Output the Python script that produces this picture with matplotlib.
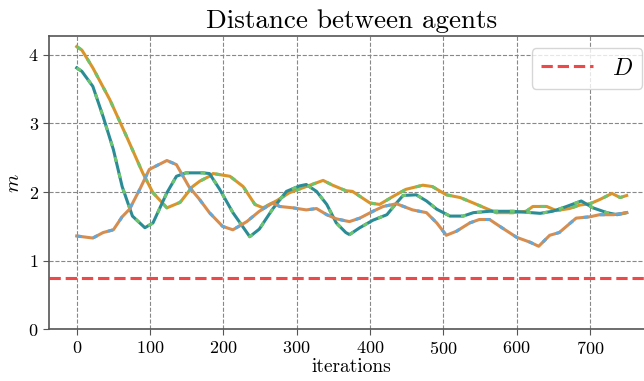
import matplotlib
matplotlib.use("Agg")
import matplotlib.pyplot as plt

plt.rcParams['font.family'] = 'serif'
plt.rcParams['font.serif'] = ['cmr10']
plt.rcParams['mathtext.fontset'] = 'cm'
plt.rcParams['axes.unicode_minus'] = False
plt.rcParams['axes.formatter.use_mathtext'] = True

# distance agent 0 - agent 1
x_a = [0, 7, 22, 45, 68, 90, 104, 123, 141, 158, 168, 181, 186, 209, 227, 243, 254, 272, 290,
       313, 336, 349, 367, 376, 400, 413, 432, 449, 472, 485, 504, 523, 541, 563, 572, 595,
       613, 622, 641, 654, 672, 686, 700, 713, 730, 741, 750]
d_a = [4.12, 4.07, 3.81, 3.35, 2.81, 2.28, 1.99, 1.77, 1.85, 2.08, 2.16, 2.23, 2.27, 2.23, 2.08,
       1.82, 1.77, 1.87, 1.99, 2.08, 2.17, 2.10, 2.02, 2.01, 1.84, 1.82, 1.94, 2.04, 2.10, 2.08,
       1.96, 1.92, 1.84, 1.74, 1.70, 1.70, 1.72, 1.79, 1.79, 1.73, 1.76, 1.81, 1.83, 1.89, 1.98,
       1.92, 1.95]

# distance agent 1 - agent 2
x_b = [0, 7, 22, 36, 50, 62, 76, 93, 104, 123, 136, 149, 172, 181, 195, 213, 236, 249, 267, 286,
       304, 313, 327, 341, 354, 367, 372, 386, 404, 423, 436, 445, 463, 477, 491, 509, 527, 541,
       563, 595, 632, 649, 668, 688, 704, 723, 737, 750]
d_b = [3.81, 3.76, 3.54, 3.10, 2.62, 2.08, 1.65, 1.48, 1.55, 1.99, 2.23, 2.28, 2.28, 2.27, 2.04,
       1.70, 1.35, 1.46, 1.75, 2.01, 2.09, 2.11, 2.01, 1.82, 1.55, 1.41, 1.38, 1.48, 1.59, 1.67,
       1.84, 1.95, 1.96, 1.87, 1.75, 1.65, 1.65, 1.70, 1.72, 1.72, 1.69, 1.72, 1.79, 1.87, 1.77,
       1.70, 1.67, 1.70]

# distance agent 0 - agent 2
x_c = [0, 22, 36, 50, 62, 72, 86, 99, 123, 136, 153, 167, 181, 199, 213, 232, 249, 267, 277,
       295, 313, 327, 341, 354, 367, 372, 386, 404, 418, 436, 458, 477, 491, 504, 518, 536, 549,
       563, 577, 600, 618, 630, 645, 658, 681, 700, 713, 732, 750]
d_c = [1.36, 1.33, 1.41, 1.45, 1.64, 1.75, 2.04, 2.33, 2.46, 2.40, 2.08, 1.90, 1.70, 1.50, 1.45,
       1.57, 1.72, 1.84, 1.79, 1.77, 1.74, 1.76, 1.67, 1.61, 1.58, 1.57, 1.62, 1.72, 1.79, 1.83,
       1.74, 1.70, 1.55, 1.37, 1.43, 1.55, 1.60, 1.60, 1.50, 1.34, 1.27, 1.21, 1.37, 1.41, 1.62,
       1.64, 1.67, 1.67, 1.70]

D = 0.75

c_orange = '#d9952b'
c_brown = '#d68d50'
c_teal = '#2b8c96'
c_green = '#6cc46c'
c_blue = '#62a8da'

fig = plt.figure(figsize=(6.44, 3.81), dpi=100)
ax = fig.add_axes([49.2 / 644, 51.7 / 381, 605 / 644, 293 / 381])

lw = 2.2
dash = (1.6, 3.8)
ax.plot(x_a, d_a, color=c_orange, lw=lw)
ax.plot(x_a, d_a, color=c_green, lw=lw, dashes=dash)
ax.plot(x_b, d_b, color=c_teal, lw=lw)
ax.plot(x_b, d_b, color=c_green, lw=lw, dashes=dash)
ax.plot(x_c, d_c, color=c_brown, lw=lw)
ax.plot(x_c, d_c, color=c_blue, lw=lw, dashes=dash)
ax.axhline(D, color='#f04848', lw=2.2, ls='--', label='$D$')

ax.set_xlim(-37.5, 787.5)
ax.set_ylim(0, 4.27)
ax.set_xticks(range(0, 800, 100))
ax.set_yticks(range(0, 5))
ax.grid(True, color='#888888', ls='--', lw=0.8)
for s in ['left', 'bottom', 'top']:
    ax.spines[s].set_color('#555555')
    ax.spines[s].set_linewidth(1.2)
ax.spines['right'].set_visible(False)
ax.tick_params(labelsize=13, color='#555555', length=4)

ax.set_title('Distance between agents', fontsize=19.5)
ax.set_xlabel('iterations', fontsize=14, labelpad=1)
ax.set_ylabel('$m$', fontsize=15)
ax.legend(loc='upper right', fontsize=17, handlelength=2.2, borderaxespad=0.5,
          bbox_to_anchor=(1.0, 1.0))

fig.savefig('out.png', dpi=100)
